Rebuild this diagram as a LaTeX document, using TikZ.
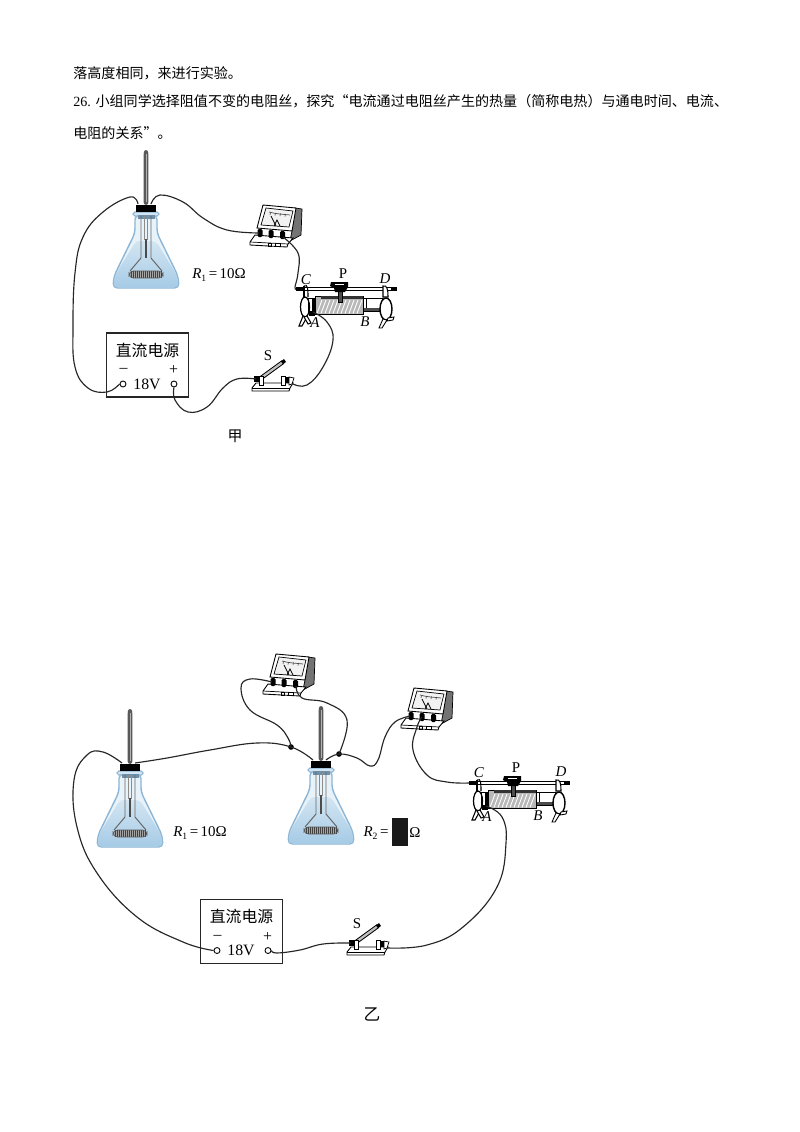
\documentclass[tikz,border=0pt]{standalone}
\usepackage{fontspec}
\setmainfont{Liberation Serif}
\newfontfamily\cjk{Noto Sans CJK SC}
\definecolor{glassedge}{HTML}{8DB6D6}
\definecolor{glasstop}{HTML}{E8F2F9}
\definecolor{liquidtop}{HTML}{D3E5F2}
\definecolor{glassbot}{HTML}{A6CBE6}
\definecolor{slate}{HTML}{6F8FA8}
\tikzset{
  wire/.style={line width=0.65pt,black!85},
  junction/.style={circle,fill=black,inner sep=0pt,minimum size=3.2pt},
  body text/.style={inner sep=0pt,anchor=west,font=\cjk\fontsize{8}{9}\selectfont},
  latin/.style={inner sep=0pt,font=\fontsize{8.5}{10}\selectfont},
  flask/.pic={
    % glass body
    \path[draw=glassedge,line width=0.8pt,fill=glasstop,rounded corners=2.5pt]
      (-11,3) -- (-11,21) -- (-32,64) -- (-33,76) -- (33,76) -- (32,64) -- (11,21) -- (11,3) -- cycle;
    % liquid
    \path[top color=liquidtop,bottom color=glassbot,rounded corners=2.5pt]
      (-7.5,29) -- (-10,29) -- (-31.5,64) -- (-32.5,75.5) -- (32.5,75.5) -- (31.5,64) -- (10,29) -- cycle;
    % rim
    \path[draw=glassedge,fill=liquidtop,line width=0.6pt,rounded corners=1pt] (-13,0) rectangle (13,4);
    \path[fill=slate] (-8.5,3) rectangle (8.5,7);
    % inner glass support
    \draw[black!60,line width=0.55pt] (-5,4) -- (-5,46) -- (-16,59);
    \draw[black!60,line width=0.55pt] (5,4) -- (5,46) -- (16,59);
    \draw[black!45,line width=0.4pt] (-1.6,4) -- (-1.6,28);
    \draw[black!45,line width=0.4pt] (1.6,4) -- (1.6,28);
    \path[fill=black!70] (-1.4,27) rectangle (1.4,46);
    % coil
    \path[fill=black!35,rounded corners=2.5pt] (-17,59) rectangle (17,66);
    \foreach \k in {-15,-13,...,15}{\draw[black!75,line width=0.45pt] (\k,59) -- (\k,66);}
    \draw[black!65,line width=0.4pt,rounded corners=2.5pt] (-17,59) rectangle (17,66);
    % thermometer
    \path[fill=black!65,rounded corners=1.5pt] (-2.4,-7) -- (-2.4,-59) -- (-1.5,-62) -- (1.5,-62) -- (2.4,-59) -- (2.4,-7) -- cycle;
    \path[fill=black!30] (-0.5,-10) rectangle (0.5,-58);
    % stopper
    \path[fill=black] (-10,-7) rectangle (10,0);
    \coordinate (-l) at (-8,-8);
    \coordinate (-r) at (5,-8);
  },
  voltmeter/.pic={
    \path[fill=black!55,draw=black,line width=0.4pt] (24,-26) -- (31,-25) -- (30,1) -- (19,7) -- (21,-3) -- cycle;
    \path[fill=white,draw=black,line width=0.5pt] (-8,-29) -- (25,-26) -- (21,-3) -- (-14,-6) -- cycle;
    \path[fill=black!5,draw=black,line width=0.4pt] (-5,-26) -- (22,-23) -- (18,-7) -- (-10,-9) -- cycle;
    \draw[black!70,line width=0.4pt] (-2,-22) .. controls (5,-20) and (10,-20) .. (19,-19);
    \foreach \a/\b in {-1/-19,4/-18.5,9/-18,14/-17.5}{\draw[black!70,line width=0.35pt] (\a,\b) -- ++(0.5,-2.5);}
    \draw[black,line width=0.5pt] (0,-18) -- (5,-8);
    \draw[black,line width=0.4pt] (3,-8) -- (6,-14) -- (9,-8);
    \path[fill=white,draw=black,line width=0.5pt] (-21,8) -- (-16,1) -- (22,4) -- (17,10) -- (16,13) -- (-21,11) -- cycle;
    \draw[black,line width=0.4pt] (-21,8) -- (17,10);
    \draw[black,line width=0.4pt] (-3,9) rectangle (0,12);
    \draw[black,line width=0.4pt] (4,9.5) rectangle (9,12.5);
    \path[fill=black,rounded corners=0.8pt] (-13.5,-5) rectangle (-8.5,3);
    \path[fill=black,rounded corners=0.8pt] (-2.5,-4) rectangle (2.5,4);
    \path[fill=black,rounded corners=0.8pt] (9,-3) rectangle (14,5);
    \coordinate (-a) at (-12,-1);
    \coordinate (-m) at (0,0);
    \coordinate (-b) at (12,3);
  },
  rheostat/.pic={
    % rod
    \path[fill=white,draw=black,line width=0.5pt] (-39,-1.6) rectangle (50,1.6);
    \path[fill=black] (-45,-1.8) rectangle (-36,1.8);
    \path[fill=black] (50,-1.8) rectangle (56,1.8);
    % right collar
    \path[fill=white,draw=black,line width=0.5pt] (22,9) rectangle (41,22);
    \draw[black,line width=0.5pt] (25,9) -- (25,22);
    \path[fill=black!70] (22,19) rectangle (41,22);
    % cylinder
    \path[fill=black!28,draw=black,line width=0.5pt] (-26,7) rectangle (22,25);
    \path[fill=black!80] (-20,7) rectangle (22,10);
    \foreach \k in {-24,-20,...,18}{\draw[white,line width=0.5pt] (\k,24.5) -- (\k+5,11);}
    % left collar
    \path[fill=white,draw=black,line width=0.5pt] (-33,9) rectangle (-26,24);
    \path[fill=black] (-29,9) rectangle (-26,26);
    \path[fill=black] (-32,22) rectangle (-26,27);
    % left clamp
    \draw[black,line width=0.6pt] (-37,-3) .. controls (-33,-5) and (-33,0) .. (-33,8);
    \draw[black,line width=0.6pt] (-37,-3) -- (-37,8);
    \draw[black,line width=0.7pt] (-36,18) ellipse (4.5 and 10);
    \draw[black,line width=0.6pt,fill=white] (-38,27) -- (-42,37) -- (-39,37) -- (-34,28) -- cycle;
    \draw[black,line width=0.6pt,fill=white] (-34,27) -- (-30,34) -- (-33,35) -- (-37,28) -- cycle;
    % right clamp
    \draw[black,line width=0.6pt,fill=white] (42,-3) .. controls (46,-4) and (47,0) .. (47,8) -- (42,8) -- cycle;
    \draw[black,line width=0.8pt,fill=white] (45,20) ellipse (6 and 11);
    \draw[black,line width=0.5pt,fill=white] (42,30) -- (38,39) -- (41,39) -- (46,31) -- cycle;
    \draw[black,line width=0.5pt,fill=white] (47,29) -- (53,28) -- (52,31) -- (46,32) -- cycle;
    % slider
    \path[fill=black!70,draw=black,line width=0.4pt] (-3,2) rectangle (1,13);
    \path[fill=black] (-11,-3) -- (-10,-7) -- (7,-7) -- (7,-2) -- (4,3) -- (-6,3) -- (-7,-1) -- cycle;
    \path[fill=white] (-6,-5) rectangle (3,-4.2);
    \coordinate (-c) at (-45,0);
    \coordinate (-a) at (-28,23);
  },
  knifeswitch/.pic={
    \path[fill=white,draw=black,line width=0.5pt] (-18,5) -- (-14,0) -- (23,0) -- (20,5) -- (19,8) -- (-18,8) -- cycle;
    \draw[black,line width=0.4pt] (-18,5) -- (20,5);
    \draw[black,line width=2.4pt] (-9,-5) -- (13,-21);
    \draw[black!25,line width=1.3pt] (-9,-5) -- (12,-20.3);
    \draw[black,line width=2pt] (12,-20.3) -- (15,-22.5);
    \path[fill=white,draw=black,line width=0.5pt] (-11,-7) rectangle (-7,2);
    \path[fill=white,draw=black,line width=0.5pt] (11,-7) rectangle (15,2);
    \path[fill=black] (-16,-7) rectangle (-11.5,-1);
    \path[fill=black] (15.5,-6) rectangle (20,0);
    \path[fill=white,draw=black,line width=0.4pt] (19,-6) -- (24,-5) -- (22,1) -- (19,2) -- cycle;
    \coordinate (-l) at (-14,-4);
    \coordinate (-r) at (23,1);
  },
  powerbox/.pic={
    \node[draw=black!85,line width=0.8pt,minimum width=46.6pt,minimum height=36.4pt,inner sep=0pt] (-box) at (0,0) {};
    \node[inner sep=0pt,font=\cjk\fontsize{9}{10}\selectfont] (-title) at (0,-15) {直流电源};
    \node[inner sep=0pt,font=\fontsize{9}{10}\selectfont] (-18v) at (-0.5,19) {18V};
    \node[inner sep=0pt,font=\fontsize{9}{10}\selectfont] (-minus) at (-24,5.5) {–};
    \node[inner sep=0pt,font=\fontsize{9}{10}\selectfont] (-plus) at (26,5.5) {+};
    \node[circle,draw=black,line width=0.5pt,fill=white,inner sep=0pt,minimum size=3.4pt] (-neg) at (-24.5,19) {};
    \node[circle,draw=black,line width=0.5pt,fill=white,inner sep=0pt,minimum size=3.4pt] (-pos) at (26.5,19) {};
  },
}
\begin{document}
\begin{tikzpicture}[x=0.02cm,y=-0.02cm]
\path[use as bounding box,fill=white] (0,0) rectangle (800,1132);

% text
\node[body text] (line1) at (73,73) {落高度相同^^^^ff0c来进行实验。};
\node[body text] (line2) at (73,101) {{\rmfamily 26. }小组同学选择阻值不变的电阻丝^^^^ff0c探究“电流通过电阻丝产生的热量^^^^ff08简称电热^^^^ff09与通电时间、电流、};
\node[body text] (line3) at (73,133) {电阻的关系”。};

% ---------- figure jia
\pic (fa) at (146,212) {flask};
\pic (ma) at (271,234) {voltmeter};
\pic (ra) at (341,289) {rheostat};
\pic (sa) at (270,383) {knifeswitch};
\pic (pa) at (147.5,365) {powerbox};
\draw[wire] plot[smooth,tension=0.7] coordinates {(fa-l) (130,197) (103,212) (83,237) (75,273) (73,327) (75,367) (88,388) (107,392) (pa-neg.west)};
\draw[wire] plot[smooth,tension=0.7] coordinates {(fa-r) (160,195) (183,202) (203,218) (227,230) (ma-a)};
\draw[wire] plot[smooth,tension=0.7] coordinates {(ma-b) (298,253) (298,273) (295,287) (ra-c)};
\draw[wire] plot[smooth,tension=0.7] coordinates {(ra-a) (327,322) (333,340) (323,367) (307,385) (sa-r)};
\draw[wire] plot[smooth,tension=0.7] coordinates {(pa-pos.south) (175,400) (188,412) (207,407) (223,388) (237,379) (sa-l)};
\node[latin] (r1a) at (219,275) {\textit{R}\raisebox{-2pt}{\fontsize{5.5}{6}\selectfont 1}\,=\,10Ω};
\node[latin] (ca) at (306,280) {\textit{C}};
\node[latin] (pla) at (343,274) {P};
\node[latin] (da) at (385,279) {\textit{D}};
\node[latin] (aa) at (315,323) {\textit{A}};
\node[latin] (ba) at (365,322) {\textit{B}};
\node[latin] (ssa) at (268,356) {S};
\node[inner sep=0pt,font=\cjk\fontsize{8.5}{10}\selectfont] (jia) at (235,436) {甲};

% ---------- figure yi
\pic (fb) at (130,771) {flask};
\pic (fc) at (321,768) {flask};
\pic (mb) at (284,683) {voltmeter};
\pic (mc) at (422,717) {voltmeter};
\pic (rb) at (514,783) {rheostat};
\pic (sb) at (365,947) {knifeswitch};
\pic (pb) at (241.5,931.5) {powerbox};
\node[junction] (j1) at (291,747) {};
\node[junction] (j2) at (339,754) {};
\draw[wire] plot[smooth,tension=0.7] coordinates {(fb-l) (103,752) (87,755) (74,780) (77,827) (97,873) (137,917) (183,942) (pb-neg.west)};
\draw[wire] plot[smooth,tension=0.7] coordinates {(fb-r) (167,758) (210,750) (257,743) (j1) (fc-l)};
\draw[wire] plot[smooth,tension=0.7] coordinates {(mb-a) (250,679) (241,688) (250,710) (277,725) (288,738) (j1)};
\draw[wire] plot[smooth,tension=0.7] coordinates {(mb-b) (302,698) (327,703) (347,720) (j2)};
\draw[wire] plot[smooth,tension=0.7] coordinates {(fc-r) (j2) (357,758) (370,766) (378,760) (385,737) (395,722) (mc-a)};
\draw[wire] plot[smooth,tension=0.7] coordinates {(mc-m) (417,727) (413,750) (427,775) (447,782) (rb-c)};
\draw[wire] plot[smooth,tension=0.7] coordinates {(rb-a) (502,817) (506,843) (497,887) (463,927) (427,945) (sb-r)};
\draw[wire] plot[smooth,tension=0.7] coordinates {(pb-pos.east) (277,953) (300,950) (323,944) (sb-l)};
\node[latin] (r1b) at (200,833) {\textit{R}\raisebox{-2pt}{\fontsize{5.5}{6}\selectfont 1}\,=\,10Ω};
\node[latin] (r2b) at (376,833) {\textit{R}\raisebox{-2pt}{\fontsize{5.5}{6}\selectfont 2}\,=};
\path[fill=black!90] (392,818) rectangle (408,846);
\node[latin] (ohm) at (415,833) {Ω};
\node[latin] (cb) at (479,773) {\textit{C}};
\node[latin] (plb) at (516,768) {P};
\node[latin] (db) at (561,772) {\textit{D}};
\node[latin] (ab) at (487,817) {\textit{A}};
\node[latin] (bb) at (538,816) {\textit{B}};
\node[latin] (ssb) at (357,924) {S};
\node[inner sep=0pt,font=\cjk\fontsize{9.5}{10}\selectfont] (yi) at (372,1014) {乙};
\end{tikzpicture}
\end{document}
